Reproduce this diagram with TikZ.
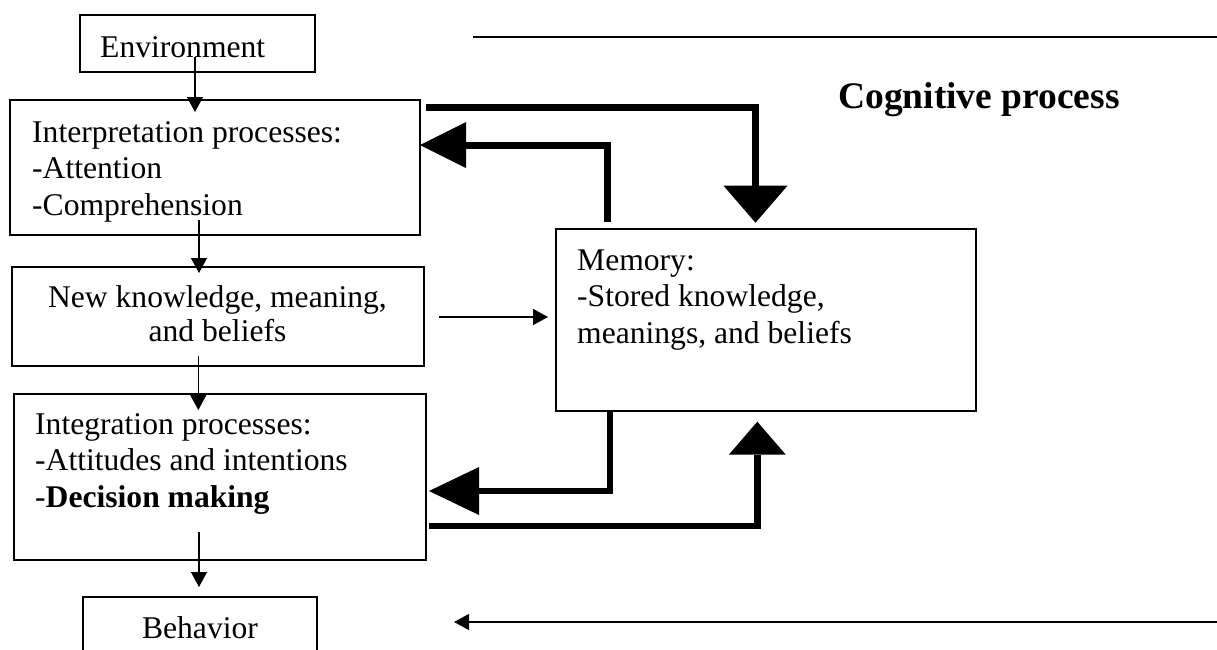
\documentclass[tikz,border=0pt]{standalone}
\usepackage{fontspec}
\setmainfont{Liberation Serif}
\usetikzlibrary{arrows.meta,calc}

\begin{document}
\begin{tikzpicture}[x=1pt,y=-1pt,
  box/.style={draw, line width=1.3pt, rectangle, inner sep=0pt, outer sep=0pt, anchor=north west},
  boxtext/.style={inner sep=0pt, anchor=base west, font=\fontsize{31.6}{36.6}\selectfont},
  thinarrow/.style={line width=1.3pt, -{Triangle[length=15pt,width=16pt]}},
  heavy/.style={line width=7pt, line join=miter},
]
\useasboundingbox (0,0) rectangle (1217,649);

% boxes of the left column and the memory box
\node[box, minimum width=235pt, minimum height=57pt]  (env)    at (80,15)  {};
\node[box, minimum width=410pt, minimum height=135pt] (interp) at (10,100) {};
\node[box, minimum width=412pt, minimum height=99pt]  (newk)   at (12,267) {};
\node[box, minimum width=412pt, minimum height=166pt] (integ)  at (14,394) {};
\node[box, minimum width=234pt, minimum height=60pt]  (behav)  at (83,597) {};
\node[box, minimum width=420pt, minimum height=182pt] (mem)    at (556,229) {};

% box texts
\node[boxtext] (envT) at ($(env.north west)+(20,42)$) {Environment};
\node[boxtext] (interpT) at ($(interp.north west)+(22,42)$)
  {\begin{tabular}[t]{@{}l@{}}Interpretation processes:\\-Attention\\-Comprehension\end{tabular}};
\node[boxtext, anchor=base, font=\fontsize{31.6}{34}\selectfont] (newkT) at ($(newk.north west)+(205.5,40.7)$)
  {\begin{tabular}[t]{@{}c@{}}New knowledge, meaning,\\and beliefs\end{tabular}};
\node[boxtext] (integT) at ($(integ.north west)+(21,40)$)
  {\begin{tabular}[t]{@{}l@{}}Integration processes:\\-Attitudes and intentions\\-\textbf{Decision making}\end{tabular}};
\node[boxtext] (memT) at ($(mem.north west)+(21,41)$)
  {\begin{tabular}[t]{@{}l@{}}Memory:\\-Stored knowledge,\\meanings, and beliefs\end{tabular}};
\node[boxtext, anchor=base] (behavT) at ($(behav.north west)+(117,41)$) {Behavior};

% title
\node[inner sep=0pt, anchor=base west, font=\fontsize{37.5}{40}\selectfont\bfseries] (title) at (838,108) {Cognitive process};

% rule lines across the top and bottom
\coordinate (topL) at (473,37);
\coordinate (topR) at (1217,37);
\draw[line width=1.3pt] (topL) -- (topR);
\coordinate (botR) at (1217,622);
\coordinate (botL) at (454,622);
\draw[thinarrow] (botR) -- (botL);

% thin flow arrows
\draw[thinarrow] ($(env.north west)+(115,42)$) -- ($(interp.north west)+(185,12)$);
\draw[thinarrow] ($(interp.south west)+(189,-15)$) -- ($(newk.north west)+(187,6)$);
\draw[thinarrow] ($(newk.south west)+(186.3,-10)$) -- ($(integ.north west)+(184.3,16)$);
\draw[thinarrow] ($(integ.south west)+(185,-28)$) -- ($(behav.north west)+(116,-10)$);
\draw[thinarrow] ($(newk.north east)+(15,50)$) -- ($(mem.north west)+(-8,88)$);

% heavy exchange arrows with memory
\draw[heavy, -{Triangle[length=37pt,width=64pt,line width=0pt]}]
  ($(interp.north east)+(6,7)$) -| ($(mem.north west)+(199.5,-6.3)$);
\draw[heavy, -{Triangle[length=46pt,width=46pt,line width=0pt]}]
  ($(mem.north west)+(51.5,-7.3)$) |- ($(interp.north east)+(0,45)$);
\draw[heavy, line width=6pt, -{Triangle[length=50pt,width=48pt,line width=0pt]}]
  ($(mem.south west)+(54,0)$) |- ($(integ.north east)+(3,97)$);
\draw[heavy, line width=6.5pt, -{Triangle[length=33pt,width=57pt,line width=0pt]}]
  ($(integ.north east)+(3,132)$) -| ($(mem.south west)+(201.3,10.7)$);
\end{tikzpicture}
\end{document}
